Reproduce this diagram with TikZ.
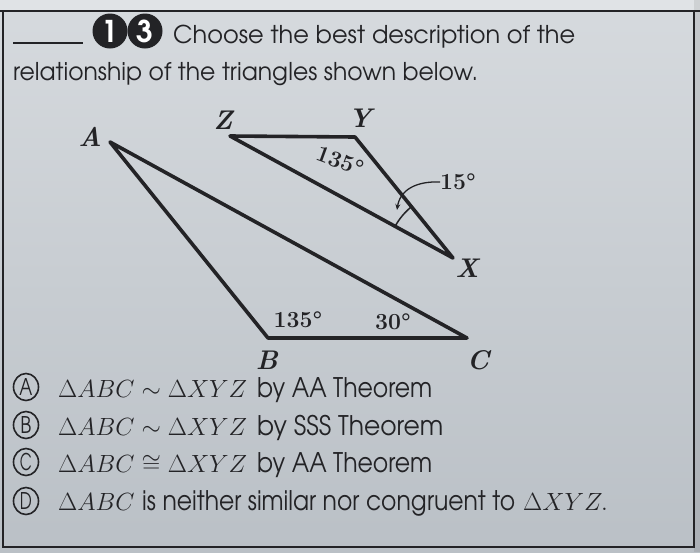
\documentclass[tikz,border=0pt]{standalone}
\usepackage{fontspec}
\usepackage{graphicx}
\newfontfamily\cg{TeX Gyre Adventor}
\usetikzlibrary{calc,arrows.meta,shapes.geometric}
\definecolor{bgtop}{RGB}{214,218,222}
\definecolor{bgbot}{RGB}{186,192,198}
\definecolor{ink}{RGB}{35,35,38}
\begin{document}
\begin{tikzpicture}[x=1pt,y=-1pt,
  tri/.style={line width=3.6pt, line join=round, line cap=round, draw=ink},
  vlab/.style={font=\fontsize{27}{27}\selectfont\bfseries\itshape, text=ink, inner sep=0pt},
  ang/.style={font=\fontsize{23}{23}\selectfont\bfseries, text=ink, inner sep=0pt},
  hdr/.style={font=\fontsize{24.5}{24.5}\selectfont\cg, inner sep=0pt, anchor=base west, text=ink},
  opttxt/.style={font=\fontsize{27}{27}\selectfont\cg, inner sep=0pt, anchor=base west, text=ink},
  optmath/.style={font=\fontsize{25}{25}\selectfont, inner sep=0pt, anchor=base west, text=ink},
  optcirc/.style={ellipse, draw=ink, line width=1.6pt, minimum width=25pt, minimum height=27pt, inner sep=0pt, text=ink, font=\fontsize{23}{23}\selectfont\cg},
  numcirc/.style={circle, fill=ink, minimum size=35pt, inner sep=0pt, text=white, font=\fontsize{30}{30}\selectfont\cg\bfseries}]
\useasboundingbox (0,0) rectangle (700,552);
% background
\shade[top color=bgtop, bottom color=bgbot] (0,0) rectangle (700,552);
\fill[white, opacity=0.25] (0,0) rectangle (700,10);
\fill[black, opacity=0.08] (694,0) rectangle (700,552);
% frame
\draw[ink, line width=1.6pt] (0,11) -- (700,11);
\draw[ink, line width=1.4pt] (3,11) -- (3,547) -- (694,547) -- (694,11);
% header
\draw[ink, line width=1.3pt] (13,43) -- (83,43);
\node[numcirc] (n1) at (110,31) {1};
\node[numcirc] (n3) at (145,31) {3};
\node[hdr] (h1) at (173,43) {\resizebox{402pt}{\height}{Choose the best description of the}};
\node[hdr] (h2) at (13,80) {\resizebox{465pt}{\height}{relationship of the triangles shown below.}};
% triangles
\coordinate (A) at (110,142);
\coordinate (B) at (268,338);
\coordinate (C) at (467,338);
\coordinate (Z) at (230,136);
\coordinate (Y) at (355,137);
\coordinate (X) at (453,258);
\draw[tri] (A) -- (B) -- (C) -- cycle;
\draw[tri] (Z) -- (Y) -- (X) -- cycle;
\node[vlab] (lA) at (90,137) {A};
\node[vlab] (lZ) at (223,120) {Z};
\node[vlab] (lY) at (360,118) {Y};
\node[vlab] (lX) at (467,268) {X};
\node[vlab] (lB) at (267,360) {B};
\node[vlab] (lC) at (478,360) {C};
\node[ang] (aB) at (298,320) {135°};
\node[ang] (aC) at (393,322) {30°};
\node[ang, rotate=-20] (aY) at (340,161) {135°};
\node[ang, anchor=west] (a15) at (440,182) {15°};
\coordinate (tip15) at (397,210);
\draw[ink, line width=1.3pt, -{Stealth[length=6pt,width=5pt]}] (a15.west) .. controls (416,181) and (400,190) .. (tip15);
\draw[ink, line width=1.5pt] ($(X)+(208.7:66)$) arc[start angle=208.7, end angle=232, radius=66];
% options
\node[optcirc] (cA) at (26,387) {\resizebox{13pt}{\height}{A}};
\node[optcirc] (cB) at (26,425) {\resizebox{11pt}{\height}{B}};
\node[optcirc] (cC) at (26,462) {\resizebox{12pt}{\height}{C}};
\node[optcirc] (cD) at (26,501) {\resizebox{12pt}{\height}{D}};
\node[optmath] (mA) at (58,397) {$\Delta ABC \sim \Delta XYZ$};
\node[optmath] (mB) at (58,435) {$\Delta ABC \sim \Delta XYZ$};
\node[optmath] (mC) at (58,472) {$\Delta ABC \cong \Delta XYZ$};
\node[optmath] (mD) at (58,510) {$\Delta ABC$};
\node[opttxt] (tA) at (257,397) {\resizebox{175pt}{\height}{by AA Theorem}};
\node[opttxt] (tB) at (257,435) {\resizebox{186pt}{\height}{by SSS Theorem}};
\node[opttxt] (tC) at (257,472) {\resizebox{175pt}{\height}{by AA Theorem}};
\node[opttxt] (tD) at (142,510) {\resizebox{373pt}{\height}{is neither similar nor congruent to}};
\node[optmath] (mD2) at (523,510) {$\Delta XYZ.$};
\end{tikzpicture}
\end{document}
